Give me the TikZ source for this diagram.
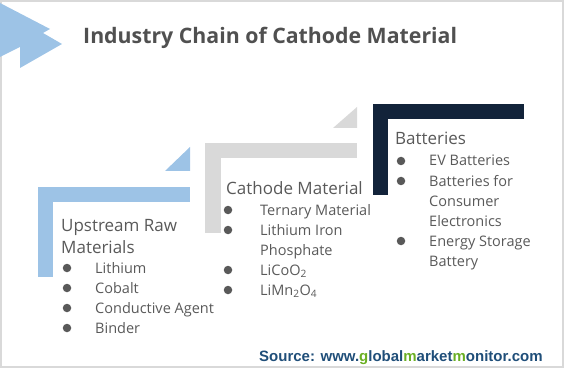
\documentclass[tikz,border=0pt]{standalone}
\usepackage{fontspec}
\setmainfont{Open Sans}
\newfontfamily\srcfont{Liberation Sans}
\usetikzlibrary{positioning}

\definecolor{chainblue}{HTML}{9DC3E6}
\definecolor{chaingray}{HTML}{D9D9D9}
\definecolor{chainnavy}{HTML}{12233A}
\definecolor{txtgray}{HTML}{595959}
\definecolor{titlegray}{HTML}{505050}
\definecolor{srcblue}{HTML}{1F4E79}
\definecolor{srcgreen}{HTML}{6AAF23}

\tikzset{
  title/.style={anchor=base west, inner sep=0pt, text=titlegray, font=\fontsize{21.3}{25}\selectfont\bfseries},
  head/.style={anchor=base west, inner sep=0pt, text=txtgray, font=\fontsize{17}{20}\selectfont},
  item/.style={anchor=base west, inner sep=0pt, text=txtgray, font=\fontsize{14.5}{20}\selectfont},
  dot/.style={circle, fill=txtgray, inner sep=0pt, minimum size=8.5pt},
  source/.style={anchor=base west, inner sep=0pt, text=srcblue, font=\srcfont\fontsize{15}{18}\selectfont\bfseries},
}

\begin{document}
\begin{tikzpicture}[x=1pt, y=-1pt]
        \useasboundingbox (0,0) rectangle (567,374);
        \draw[chaingray, line width=1.5pt] (1,1) rectangle (563,367);
        %
        \fill[chainblue] (0,3) -- (50,29) -- (43,33) -- (62,44) -- (20,68) -- (20,47) -- (0,57) -- cycle;
        \node[title] (title) at (83,44) {Industry Chain of Cathode Material};
        %
        \fill[chainblue] (38,187) rectangle (190,202);
        \fill[chainblue] (38,187) rectangle (53,277);
        \fill[chainblue] (165,171) -- (190,171) -- (190,147) -- cycle;
        \fill[chaingray] (205,143) rectangle (357,158);
        \fill[chaingray] (205,143) rectangle (221,233);
        \fill[chaingray] (333,128) -- (357,128) -- (357,107) -- cycle;
        \fill[chainnavy] (373,104) rectangle (524,119);
        \fill[chainnavy] (373,104) rectangle (388,195);
        %
        \node[head] (up) at (61,231) {Upstream Raw};
        \node[below=22pt of up.base west, head] (up0) {Materials};
        \node[below=20pt of up0.base west, item, xshift=34pt] (up1) {Lithium};
        \node[below=20pt of up1.base west, item] (up2) {Cobalt};
        \node[below=20pt of up2.base west, item] (up3) {Conductive Agent};
        \node[below=20pt of up3.base west, item] (up4) {Binder};
        \node[dot] (upd1) at ([xshift=-28pt, yshift=5pt]up1.base west) {};
        \node[dot] (upd2) at ([xshift=-28pt, yshift=5pt]up2.base west) {};
        \node[dot] (upd3) at ([xshift=-28pt, yshift=5pt]up3.base west) {};
        \node[dot] (upd4) at ([xshift=-28pt, yshift=5pt]up4.base west) {};
        %
        \node[head] (ca) at (226,194) {Cathode Material};
        \node[below=21pt of ca.base west, item, xshift=34pt] (ca1) {Ternary Material};
        \node[below=20pt of ca1.base west, item] (ca2) {Lithium Iron};
        \node[below=20pt of ca2.base west, item] (ca2b) {Phosphate};
        \node[below=20pt of ca2b.base west, item] (ca3) {LiCoO\textsubscript{2}};
        \node[below=20pt of ca3.base west, item] (ca4) {LiMn\textsubscript{2}O\textsubscript{4}};
        \node[dot] (cad1) at ([xshift=-32pt, yshift=5pt]ca1.base west) {};
        \node[dot] (cad2) at ([xshift=-32pt, yshift=5pt]ca2.base west) {};
        \node[dot] (cad3) at ([xshift=-32pt, yshift=5pt]ca3.base west) {};
        \node[dot] (cad4) at ([xshift=-32pt, yshift=5pt]ca4.base west) {};
        %
        \node[head] (ba) at (395,145) {Batteries};
        \node[below=21pt of ba.base west, item, xshift=34pt] (ba1) {EV Batteries};
        \node[below=20pt of ba1.base west, item] (ba2) {Batteries for};
        \node[below=20pt of ba2.base west, item] (ba2b) {Consumer};
        \node[below=20pt of ba2b.base west, item] (ba2c) {Electronics};
        \node[below=20pt of ba2c.base west, item] (ba3) {Energy Storage};
        \node[below=20pt of ba3.base west, item] (ba3b) {Battery};
        \node[dot] (bad1) at ([xshift=-28pt, yshift=5pt]ba1.base west) {};
        \node[dot] (bad2) at ([xshift=-28pt, yshift=5pt]ba2.base west) {};
        \node[dot] (bad3) at ([xshift=-28pt, yshift=5pt]ba3.base west) {};
        %
        \node[source] (src) at (259,361) {Source: www.\textcolor{srcgreen}{g}lobal\textcolor{srcgreen}{m}arket\textcolor{srcgreen}{m}onitor.com};
\end{tikzpicture}
\end{document}
